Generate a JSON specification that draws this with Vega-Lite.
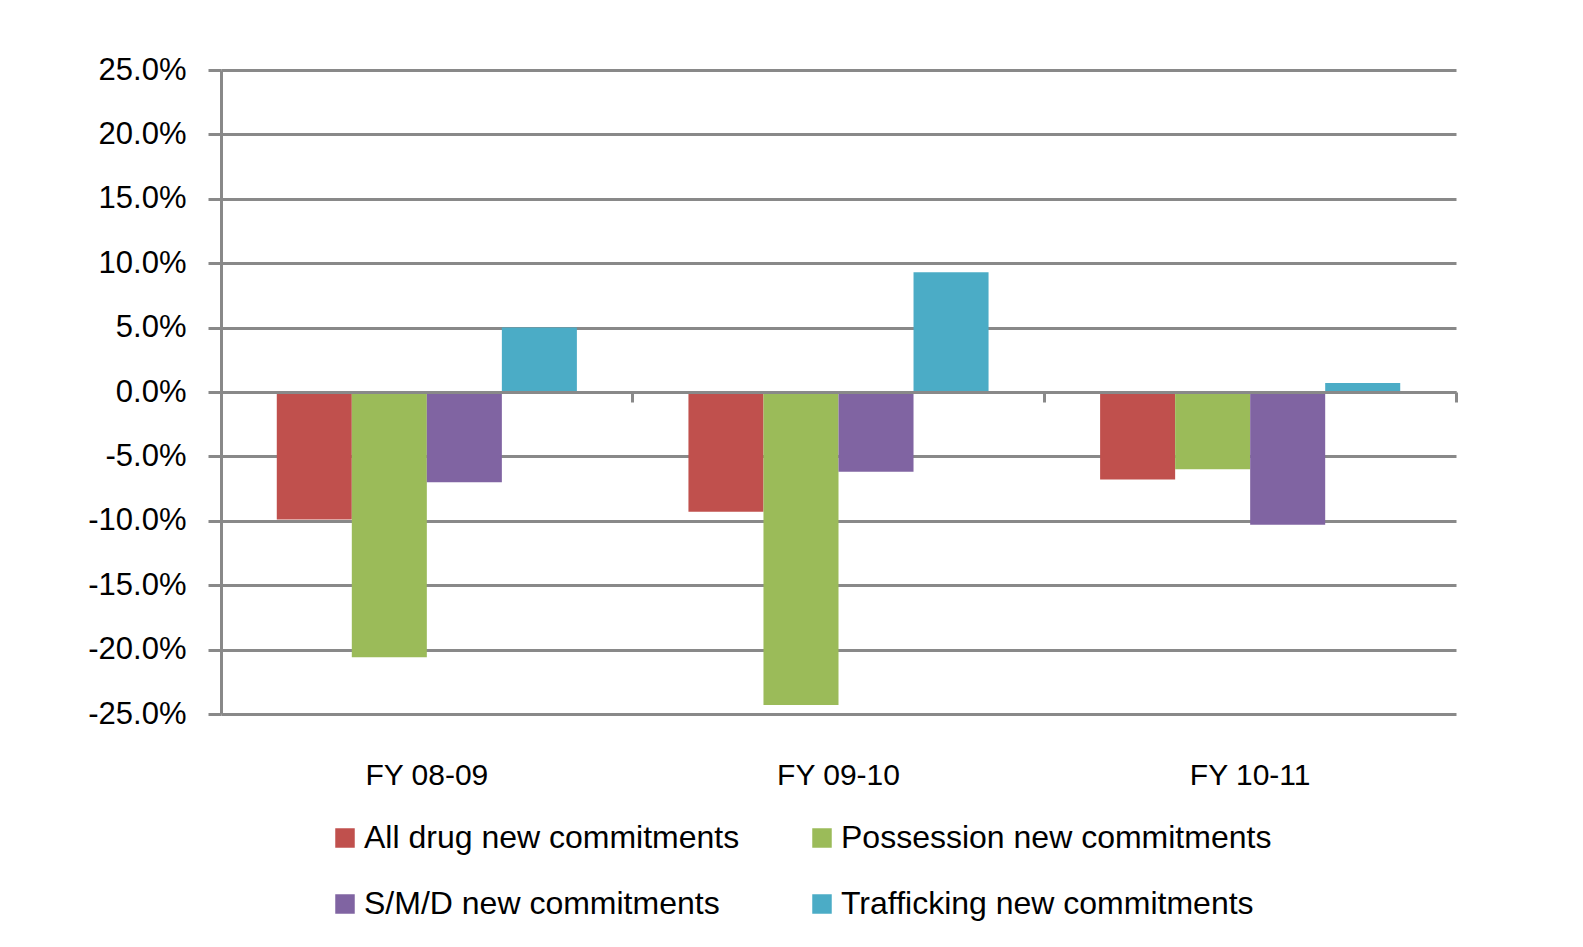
{
  "$schema": "https://vega.github.io/schema/vega-lite/v6.json",
  "width": 1235,
  "height": 644,
  "autosize": {"type": "none"},
  "padding": {"left": 221, "top": 70, "right": 127, "bottom": 233},
  "background": "white",
  "config": {"view": {"stroke": null}, "font": "Liberation Sans"},
  "data": {
    "values": [
      {"year": "FY 08-09", "series": "All drug new commitments", "value": -0.099},
      {"year": "FY 08-09", "series": "Possession new commitments", "value": -0.206},
      {"year": "FY 08-09", "series": "S/M/D new commitments", "value": -0.070},
      {"year": "FY 08-09", "series": "Trafficking new commitments", "value": 0.050},
      {"year": "FY 09-10", "series": "All drug new commitments", "value": -0.093},
      {"year": "FY 09-10", "series": "Possession new commitments", "value": -0.243},
      {"year": "FY 09-10", "series": "S/M/D new commitments", "value": -0.062},
      {"year": "FY 09-10", "series": "Trafficking new commitments", "value": 0.093},
      {"year": "FY 10-11", "series": "All drug new commitments", "value": -0.068},
      {"year": "FY 10-11", "series": "Possession new commitments", "value": -0.060},
      {"year": "FY 10-11", "series": "S/M/D new commitments", "value": -0.103},
      {"year": "FY 10-11", "series": "Trafficking new commitments", "value": 0.007}
    ]
  },
  "layer": [
    {
      "mark": {"type": "bar"},
      "encoding": {
        "x": {
          "field": "year", "type": "nominal",
          "sort": ["FY 08-09", "FY 09-10", "FY 10-11"],
          "scale": {"paddingInner": 0.271, "paddingOuter": 0.1355},
          "axis": {"title": null, "domain": false, "ticks": false, "grid": false, "labelAngle": 0, "labelFontSize": 30, "labelColor": "black", "labelPadding": 46, "labelFont": "Liberation Sans"}
        },
        "xOffset": {
          "field": "series", "type": "nominal",
          "sort": ["All drug new commitments", "Possession new commitments", "S/M/D new commitments", "Trafficking new commitments"],
          "scale": {"paddingInner": 0, "paddingOuter": 0}
        },
        "y": {
          "field": "value", "type": "quantitative",
          "scale": {"domain": [-0.25, 0.25], "nice": false, "zero": false},
          "axis": {
            "title": null,
            "values": [-0.25, -0.2, -0.15, -0.1, -0.05, 0, 0.05, 0.1, 0.15, 0.2, 0.25],
            "format": ".1%",
            "labelExpr": "replace(datum.label, '\u2212', '-')",
            "domain": true, "domainColor": "#898989", "domainWidth": 3,
            "ticks": true, "tickSize": 13, "tickWidth": 3, "tickColor": "#898989",
            "grid": true, "gridColor": "#898989", "gridWidth": 3,
            "labelFontSize": 31, "labelColor": "black", "labelPadding": 22, "labelFont": "Liberation Sans"
          }
        },
        "color": {
          "field": "series", "type": "nominal",
          "scale": {
            "domain": ["All drug new commitments", "Possession new commitments", "S/M/D new commitments", "Trafficking new commitments"],
            "range": ["#C0504D", "#9BBB59", "#8064A2", "#4BACC6"]
          },
          "legend": {
            "title": null, "orient": "none", "legendX": 108, "legendY": 752,
            "columns": 2, "direction": "horizontal", "padding": 0,
            "symbolType": "square", "symbolSize": 380, "symbolStrokeWidth": 0, "symbolOpacity": 1,
            "labelFontSize": 32, "labelColor": "black", "labelOffset": 3, "labelLimit": 1000, "labelFont": "Liberation Sans",
            "rowPadding": 34, "columnPadding": 66
          }
        }
      }
    },
    {
      "mark": {"type": "bar", "opacity": 0},
      "encoding": {
        "x": {
          "field": "year", "type": "nominal",
          "sort": ["FY 08-09", "FY 09-10", "FY 10-11"],
          "axis": {"title": null, "offset": -322, "labels": false, "domain": true, "domainColor": "#898989", "domainWidth": 3, "ticks": true, "bandPosition": 1.186, "tickSize": -10, "tickWidth": 3, "tickColor": "#898989", "grid": false, "zindex": 1}
        },
        "y": {"field": "value", "type": "quantitative"}
      }
    }
  ],
  "resolve": {"axis": {"x": "independent"}}
}
